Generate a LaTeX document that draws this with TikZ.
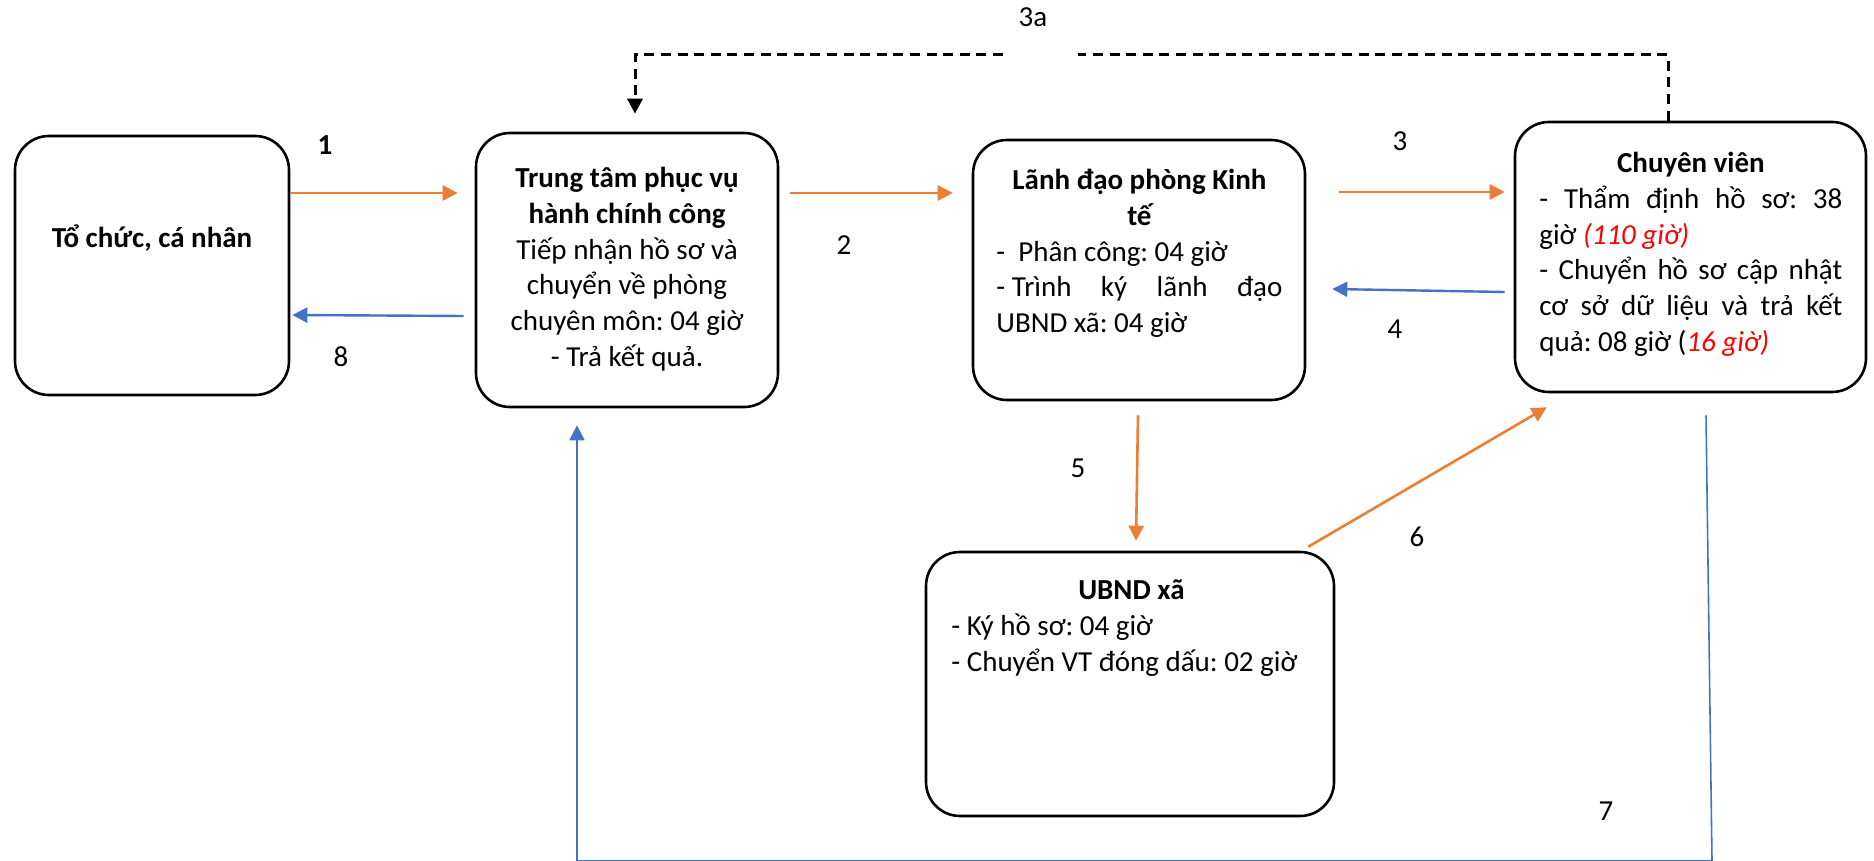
\documentclass[tikz,border=0pt]{standalone}
\usepackage{fontspec}
\setmainfont{Carlito}
\usetikzlibrary{arrows.meta,calc}
\setlength{\lineskiplimit}{-20pt}
\frenchspacing
\definecolor{oarr}{HTML}{ED7D31}
\definecolor{barr}{HTML}{4472C4}
\definecolor{vred}{HTML}{FF0000}
\newcommand\tstrut{\rule{0pt}{13pt}}
\tikzset{
  box/.style={draw, line width=1.3pt, rounded corners=17pt, inner sep=0pt},
  txt/.style={inner sep=0pt, align=left, font=\fontsize{14.5}{17.9}\selectfont},
  lbl/.style={inner sep=0pt, font=\fontsize{14.5}{17.9}\selectfont},
  otip/.style={-{Triangle[length=7.5pt,width=7.5pt]}},
  oline/.style={draw=oarr, line width=1.3pt, otip},
  bline/.style={draw=barr, line width=1.2pt, otip},
  bthin/.style={draw=barr, line width=0.8pt, otip},
  dline/.style={draw=black, line width=1.5pt, dash pattern=on 5pt off 3.3pt},
}
\begin{document}
\begin{tikzpicture}[x=0.5pt, y=-0.5pt]
\path[fill=white] (0,0) rectangle (1874,861);
\useasboundingbox (0,0) rectangle (1874,861);

% boxes
\node[box, minimum width=137pt, minimum height=129.5pt] (b1) at (152,265.5) {};
\node[box, minimum width=151pt, minimum height=137pt] (b2) at (627,270) {};
\node[box, minimum width=166pt, minimum height=130pt] (b3) at (1139,270) {};
\node[box, minimum width=175.5pt, minimum height=135pt] (b4) at (1690.5,257) {};
\node[box, minimum width=204pt, minimum height=132pt] (b5) at (1130,684) {};

% texts
\node[lbl, font=\fontsize{14.5}{17.9}\selectfont\bfseries] (t1) at (152,238) {Tổ chức, cá nhân};

\node[txt, anchor=north] (t2) at (627,161) {%
\tstrut\makebox[140pt][c]{\bfseries Trung tâm phục vụ}\\
\makebox[140pt][c]{\bfseries hành chính công}\\
\makebox[140pt][c]{Tiếp nhận hồ sơ và}\\
\makebox[140pt][c]{chuyển về phòng}\\
\makebox[140pt][c]{chuyên môn: 04 giờ}\\
\makebox[140pt][c]{- Trả kết quả.}};

\node[txt, anchor=north west] (t3) at (996,163) {%
\tstrut\makebox[143pt][c]{\bfseries Lãnh đạo phòng Kinh}\\
\makebox[143pt][c]{\bfseries tế}\\
\makebox[143pt][l]{-\kern0.45em Phân công: 04 giờ}\\
\makebox[143pt][s]{-\kern0.23em Trình ký lãnh đạo}\\
\makebox[143pt][l]{UBND xã: 04 giờ}};

\node[txt, anchor=north west] (t4) at (1539,146) {%
\tstrut\makebox[151.5pt][c]{\bfseries Chuyên viên}\\
\makebox[151.5pt][s]{- Thẩm định hồ sơ: 38}\\
\makebox[151.5pt][l]{giờ \textcolor{vred}{\itshape (110 giờ)}}\\
\makebox[151.5pt][s]{- Chuyển hồ sơ cập nhật}\\
\makebox[151.5pt][s]{cơ sở dữ liệu và trả kết}\\
\makebox[151.5pt][l]{quả: 08 giờ (\textcolor{vred}{\itshape 16 giờ)}}};

\node[txt, anchor=north west] (t5) at (951,573) {%
\tstrut\makebox[180pt][c]{\bfseries UBND xã}\\
\makebox[180pt][l]{- Ký hồ sơ: 04 giờ}\\
\makebox[180pt][l]{- Chuyển VT đóng dấu: 02 giờ}};

% labels
\node[lbl, font=\fontsize{14.5}{17.9}\selectfont\bfseries] (l1) at (325,145) {1};
\node[lbl] (l2) at (844,245) {2};
\node[lbl] (l3) at (1400,141) {3};
\node[lbl] (l3a) at (1033,17) {3a};
\node[lbl] (l4) at (1395,329) {4};
\node[lbl] (l5) at (1078,468) {5};
\node[lbl] (l6) at (1417,537) {6};
\node[lbl] (l7) at (1606,811) {7};
\node[lbl] (l8) at (341,357) {8};

% helper coordinates
\coordinate (g1) at (1078,55);
\coordinate (g2) at (1003,55);
\coordinate (k7a) at (1712,861);
\coordinate (k7b) at (577,861);

% connectors
\draw[oline] ($(b1.east)+(0,-72.5)$) -- ($(b2.west)+(-17,-77)$);
\draw[oline] ($(b2.east)+(11,-77)$) -- ($(b3.west)+(-19,-77)$);
\draw[oline] ($(b3.east)+(33,-78)$) -- ($(b4.west)+(-9,-65)$);
\draw[bline] ($(b4.west)+(-9,35)$) -- ($(b3.east)+(26,19)$);
\draw[bline] ($(b2.west)+(-11,46)$) -- ($(b1.east)+(2,49.5)$);
\draw[oline] ($(b3.south)+(-1,14)$) -- ($(b5.north)+(6,-10)$);
\draw[oline] ($(b5.north east)+(-27,-4)$) -- ($(b4.south west)+(33,14)$);
\draw[bthin] ($(b4.south)+(15.5,22)$) -- (k7a) -- (k7b) -- ($(b2.south)+(-50,17)$);

% 3a dashed
\draw[dline] ($(b4.north)+(-22.5,0)$) |- (g1);
\draw[dline, -{Triangle[length=7.5pt,width=7.5pt]}] (g2) -| ($(b2.north)+(8,-18)$);
\end{tikzpicture}
\end{document}
